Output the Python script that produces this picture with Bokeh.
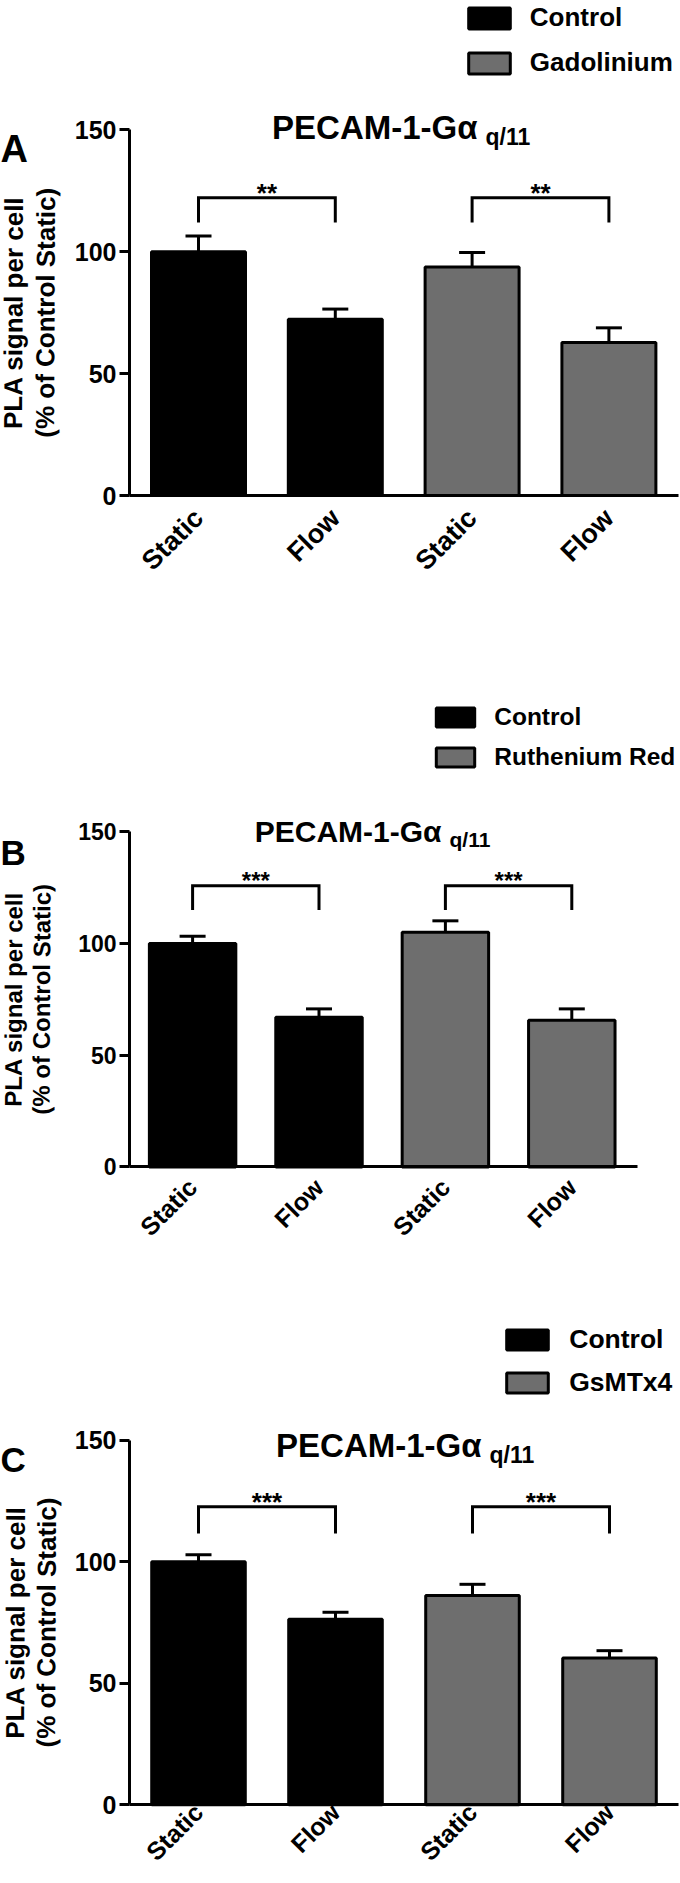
import math
from bokeh.plotting import figure
from bokeh.models import (ColumnDataSource, Range1d, FixedTicker, Legend, LegendItem,
                          Whisker, TeeHead, Label)
from bokeh.layouts import column
from bokeh.embed import file_html
from bokeh.resources import INLINE
from bokeh.core.properties import value

# ---------------- data ----------------
conditions = ["Static", "Flow", "Static", "Flow"]

treatment_A = ["Control", "Control", "Gadolinium", "Gadolinium"]
mean_A = [100.0, 72.3, 93.8, 62.8]
sem_A = [6.5, 4.2, 5.9, 6.0]
stars_A = ["**", "**"]

treatment_B = ["Control", "Control", "Ruthenium Red", "Ruthenium Red"]
mean_B = [100.0, 67.0, 105.0, 65.6]
sem_B = [3.2, 3.7, 5.1, 5.1]
stars_B = ["***", "***"]

treatment_C = ["Control", "Control", "GsMTx4", "GsMTx4"]
mean_C = [100.0, 76.3, 86.1, 60.4]
sem_C = [2.9, 2.9, 4.6, 3.0]
stars_C = ["***", "***"]

y_ticks = [0, 50, 100, 150]
title_main = "PECAM-1-G\u03b1"
title_sub = "q/11"
ylabel_lines = ["PLA signal per cell", "(% of Control Static)"]

# ---------------- style / layout (reference pixels) ----------------
FONT = "Liberation Sans"
BLACK = "#000000"
GRAY = "#6e6e6e"
PAGE_W = 680
AXIS_X = 129        # x of the y axis line
YLAB_ANGLE = math.pi / 2 - 0.004   # vertical text, reading bottom to top

layouts = {
    "A": dict(band=(0, 640), right=678, y0=495.0, ppu=2.437, c1=198.0, spacing=136.8,
              bar_w=0.687, bracket=(122.2, 112.0),
              leg=dict(left=468, top=9, w=41.5, h=20.5, pitch=43, gap=20.5, font=26),
              title=dict(split=481, base=127, main=33, sub=23, drop=9),
              letter=dict(base=148.3, font=38),
              ylab=dict(xs=(13, 45), font=26),
              tick_font=25, xlab_font=27, xlab_standoff=18, star_font=26),
    "B": dict(band=(640, 1290), right=636.6, y0=1166.4, ppu=2.235, c1=192.1, spacing=126.4,
              bar_w=0.684, bracket=(125.8, 114.9),
              leg=dict(left=436, top=707, w=38, h=19, pitch=39.5, gap=19.5, font=24.5),
              title=dict(split=445, base=830.5, main=30, sub=21, drop=8),
              letter=dict(base=851.5, font=35),
              ylab=dict(xs=(13, 41), font=24),
              tick_font=23, xlab_font=25, xlab_standoff=16, star_font=24),
    "C": dict(band=(1290, 1880), right=678, y0=1804.3, ppu=2.431, c1=198.0, spacing=137.0,
              bar_w=0.683, bracket=(122.6, 111.6),
              leg=dict(left=506.5, top=1329, w=42, h=20, pitch=42, gap=20.8, font=26.5),
              title=dict(split=485, base=1445, main=33, sub=23, drop=9),
              letter=dict(base=1458.7, font=35),
              ylab=dict(xs=(15, 46), font=26),
              tick_font=25, xlab_font=25, xlab_standoff=3, star_font=26),
}


def make_panel(letter, treatments, means, sems, stars, L):
    b0, b1 = L["band"]
    H = b1 - b0

    # data <-> reference-pixel helpers (used for placing annotations only)
    x_start = 0.5 - (L["c1"] - AXIS_X) / L["spacing"]
    xd = lambda rx: x_start + (rx - AXIS_X) / L["spacing"]
    yd = lambda ry: (L["y0"] - ry) / L["ppu"]

    p = figure(width=PAGE_W, height=H, title=None, toolbar_location=None,
               output_backend="svg", x_range=Range1d(xd(0), xd(PAGE_W)),
               y_range=Range1d(yd(b1), yd(b0)),
               min_border_left=0, min_border_right=0, min_border_top=0, min_border_bottom=0)
    p.outline_line_color = None
    p.grid.visible = False
    p.background_fill_color = "white"
    p.border_fill_color = "white"

    xs = [i + 0.5 for i in range(len(conditions))]
    tops = [m + s for m, s in zip(means, sems)]

    renderers, groups = [], []
    for t in treatments:
        if t not in groups:
            groups.append(t)
    for gi, g in enumerate(groups):
        idx = [i for i, t in enumerate(treatments) if t == g]
        src = ColumnDataSource(dict(x=[xs[i] for i in idx], top=[means[i] for i in idx]))
        r = p.vbar(x="x", top="top", bottom=0, width=L["bar_w"], source=src,
                   fill_color=BLACK if gi == 0 else GRAY, line_color=BLACK, line_width=3)
        renderers.append(r)

    # error bars (upper SEM only)
    esrc = ColumnDataSource(dict(x=xs, lower=means, upper=tops))
    p.add_layout(Whisker(source=esrc, base="x", lower="lower", upper="upper",
                         dimension="height", line_color=BLACK, line_width=3,
                         upper_head=TeeHead(size=26, line_color=BLACK, line_width=3),
                         lower_head=None))

    # significance brackets
    btop, bleg = L["bracket"]
    bxs, bys, sx, sy = [], [], [], []
    for k in range(2):
        xa, xb = xs[2 * k], xs[2 * k + 1]
        bxs.append([xa, xa, xb, xb])
        bys.append([bleg, btop, btop, bleg])
        sx.append((xa + xb) / 2)
        sy.append(btop)
    p.multi_line(xs=bxs, ys=bys, line_color=BLACK, line_width=3, line_join="miter")
    p.text(x=sx, y=sy, text=stars, text_align="center", text_baseline="alphabetic",
           y_offset=-5, text_font=value(FONT), text_font_style="bold",
           text_font_size=f"{L['star_font']}px", text_color=BLACK)

    # axes drawn inside the frame at fixed data locations
    p.yaxis.fixed_location = x_start
    p.xaxis.fixed_location = 0
    p.yaxis.ticker = FixedTicker(ticks=y_ticks)
    p.yaxis.bounds = (0, 150)
    p.yaxis.minor_tick_line_color = None
    p.yaxis.major_tick_out = 10
    p.yaxis.major_tick_in = 0
    p.yaxis.major_label_standoff = 3
    p.xaxis.ticker = FixedTicker(ticks=xs)
    p.xaxis.bounds = (x_start, xd(L["right"]))
    p.xaxis.major_label_overrides = {x: c for x, c in zip(xs, conditions)}
    p.xaxis.major_label_orientation = math.pi / 4
    p.xaxis.major_tick_out = 0
    p.xaxis.major_tick_in = 0
    p.xaxis.minor_tick_line_color = None
    p.xaxis.major_label_standoff = L["xlab_standoff"]
    for ax, fs in ((p.yaxis, L["tick_font"]), (p.xaxis, L["xlab_font"])):
        ax.axis_line_width = 3
        ax.axis_line_color = BLACK
        ax.major_tick_line_width = 3
        ax.major_tick_line_color = BLACK
        ax.major_label_text_font = FONT
        ax.major_label_text_font_style = "bold"
        ax.major_label_text_font_size = f"{fs}px"
        ax.major_label_text_color = BLACK

    # legend
    lg = L["leg"]
    gw = lg["w"] / 0.8
    gh = lg["h"] / 0.8
    mlh = max(gh, 1.117 * lg["font"])
    spacing = lg["pitch"] - mlh
    x1 = lg["left"] - 0.1 * gw
    y1 = (lg["top"] - b0) - 0.1 * gh
    leg_bottom = y1 + 2 * mlh + spacing
    legend = Legend(items=[LegendItem(label=g, renderers=[r]) for g, r in zip(groups, renderers)],
                    location=(x1, H - leg_bottom),
                    glyph_width=round(gw), glyph_height=round(gh),
                    spacing=round(spacing), padding=0, margin=0,
                    label_standoff=round(lg["gap"] - 0.1 * gw),
                    label_text_font=FONT, label_text_font_style="bold",
                    label_text_font_size=f"{lg['font']}px", label_text_color=BLACK,
                    border_line_color=None, background_fill_alpha=0)
    p.add_layout(legend)

    # title (main text + subscript)
    T = L["title"]
    p.add_layout(Label(x=xd(T["split"] - 4), y=yd(T["base"]), text=title_main,
                       text_align="right", text_baseline="alphabetic",
                       text_font=FONT, text_font_style="bold",
                       text_font_size=f"{T['main']}px", text_color=BLACK))
    p.add_layout(Label(x=xd(T["split"] + 4), y=yd(T["base"] + T["drop"]), text=title_sub,
                       text_align="left", text_baseline="alphabetic",
                       text_font=FONT, text_font_style="bold",
                       text_font_size=f"{T['sub']}px", text_color=BLACK))

    # panel letter
    LT = L["letter"]
    p.add_layout(Label(x=xd(0), y=yd(LT["base"]), text=letter, text_align="left",
                       text_baseline="alphabetic", text_font=FONT, text_font_style="bold",
                       text_font_size=f"{LT['font']}px", text_color=BLACK))

    # y-axis title: two rotated lines centred on the axis (screen units, y from bottom)
    YL = L["ylab"]
    y_center_ref = L["y0"] - 75 * L["ppu"]
    for line, cx in zip(ylabel_lines, YL["xs"]):
        p.add_layout(Label(x=cx, y=H - (y_center_ref - b0), x_units="screen", y_units="screen",
                           text=line, angle=YLAB_ANGLE,
                           text_align="center", text_baseline="middle",
                           text_font=FONT, text_font_style="bold",
                           text_font_size=f"{YL['font']}px", text_color=BLACK))
    return p


pA = make_panel("A", treatment_A, mean_A, sem_A, stars_A, layouts["A"])
pB = make_panel("B", treatment_B, mean_B, sem_B, stars_B, layouts["B"])
pC = make_panel("C", treatment_C, mean_C, sem_C, stars_C, layouts["C"])

page = column(pA, pB, pC, spacing=0)
open("out.html", "w").write(file_html(page, INLINE))
